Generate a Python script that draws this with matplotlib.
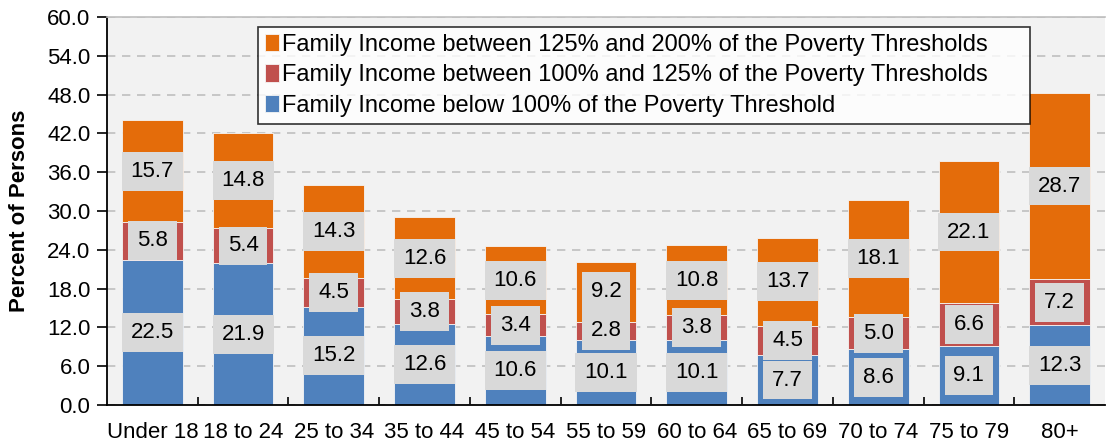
import numpy as np
import matplotlib.pyplot as plt

plt.rcParams['font.family'] = ['Liberation Sans', 'DejaVu Sans']

# data
categories = ['Under 18', '18 to 24', '25 to 34', '35 to 44', '45 to 54', '55 to 59',
              '60 to 64', '65 to 69', '70 to 74', '75 to 79', '80+']
below_100 = [22.5, 21.9, 15.2, 12.6, 10.6, 10.1, 10.1, 7.7, 8.6, 9.1, 12.3]
b100_125 = [5.8, 5.4, 4.5, 3.8, 3.4, 2.8, 3.8, 4.5, 5.0, 6.6, 7.2]
b125_200 = [15.7, 14.8, 14.3, 12.6, 10.6, 9.2, 10.8, 13.7, 18.1, 22.1, 28.7]

series = [
    (below_100, '#4F81BD', 'Family Income below 100% of the Poverty Threshold'),
    (b100_125, '#C0504D', 'Family Income between 100% and 125% of the Poverty Thresholds'),
    (b125_200, '#E46C0A', 'Family Income between 125% and 200% of the Poverty Thresholds'),
]

fig = plt.figure(figsize=(11.07, 4.45), dpi=100)
ax = fig.add_axes([107/1107, 40/445, (1105-107)/1107, (405-17)/445])
ax.set_facecolor('#F2F2F2')

x = np.arange(len(categories))
bottom = np.zeros(len(categories))
handles = []
for vals, col, lab in series:
    vals = np.array(vals)
    h = ax.bar(x, vals, width=0.67, bottom=bottom, color=col, edgecolor='#F5F5F5',
               linewidth=0.6, label=lab, zorder=2)
    handles.append(h)
    for xi, b, v in zip(x, bottom, vals):
        ax.text(xi, b + v / 2, f'{v:.1f}', ha='center', va='center', fontsize=16,
                zorder=4,
                bbox=dict(boxstyle='square,pad=0.4', facecolor='#D9D9D9', edgecolor='none'))
    bottom += vals

ax.set_xlim(-0.5, len(categories) - 0.5)
ax.set_ylim(0, 60)
ax.set_yticks(np.arange(0, 61, 6))
ax.set_yticklabels([f'{t:.1f}' for t in np.arange(0, 61, 6)], fontsize=16)
ax.set_xticks(x)
ax.set_xticklabels(categories, fontsize=16)
ax.set_xticks(np.arange(0.5, len(categories) - 0.5, 1), minor=True)
ax.tick_params(axis='x', which='major', length=0, pad=12)
ax.tick_params(axis='x', which='minor', direction='in', length=6, width=1.2)
ax.tick_params(axis='y', direction='out', length=7, width=1.2, pad=5)

ax.yaxis.grid(True, linestyle=(0, (5, 4)), color='#BFBFBF', linewidth=1.2, zorder=0)
ax.set_axisbelow(True)
ax.spines['right'].set_visible(False)
ax.spines['top'].set_color('#BFBFBF')
ax.spines['top'].set_linewidth(1.2)
ax.spines['left'].set_linewidth(1.3)
ax.spines['bottom'].set_linewidth(1.3)

ax.set_ylabel('Percent of Persons', fontsize=16, fontweight='bold', labelpad=12)

leg = ax.legend(handles=handles[::-1], loc='upper left',
                bbox_to_anchor=(0.151, 0.975 - 0.25, 0.774, 0.25), mode='expand',
                fontsize=17, frameon=True, fancybox=False, handlelength=0.6,
                handleheight=0.75, handletextpad=0.12, borderpad=0.3, labelspacing=0.36,
                borderaxespad=0)
leg.get_frame().set_edgecolor('black')
leg.get_frame().set_linewidth(1.2)
leg.get_frame().set_facecolor('white')
leg.set_zorder(5)

fig.savefig('out.png', dpi=100)
